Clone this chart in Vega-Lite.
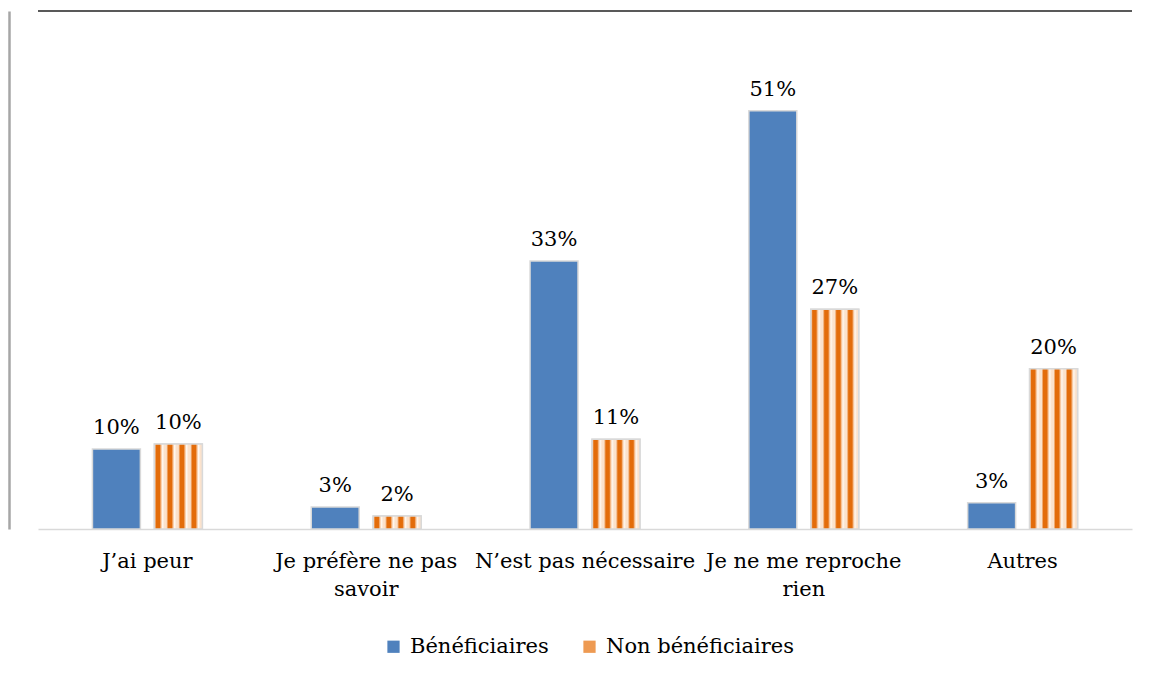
{
  "$schema": "https://vega.github.io/schema/vega-lite/v6.json",
  "autosize": {"type": "none"},
  "width": 1094,
  "height": 518,
  "padding": {"left": 38, "top": 11, "right": 17, "bottom": 146},
  "background": "white",
  "config": {
    "view": {"stroke": null},
    "font": "DejaVu Serif",
    "text": {"font": "DejaVu Serif"},
    "axis": {"labelFont": "DejaVu Serif"},
    "legend": {"labelFont": "DejaVu Serif"}
  },
  "data": {
    "values": [
      {"cat": "J’ai peur", "serie": "Bénéficiaires", "v": 0.098},
      {"cat": "J’ai peur", "serie": "Non bénéficiaires", "v": 0.104},
      {"cat": "Je préfère ne pas|savoir", "serie": "Bénéficiaires", "v": 0.027},
      {"cat": "Je préfère ne pas|savoir", "serie": "Non bénéficiaires", "v": 0.016},
      {"cat": "N’est pas nécessaire", "serie": "Bénéficiaires", "v": 0.328},
      {"cat": "N’est pas nécessaire", "serie": "Non bénéficiaires", "v": 0.110},
      {"cat": "Je ne me reproche|rien", "serie": "Bénéficiaires", "v": 0.512},
      {"cat": "Je ne me reproche|rien", "serie": "Non bénéficiaires", "v": 0.269},
      {"cat": "Autres", "serie": "Bénéficiaires", "v": 0.032},
      {"cat": "Autres", "serie": "Non bénéficiaires", "v": 0.196}
    ]
  },
  "encoding": {
    "x": {
      "field": "cat",
      "type": "nominal",
      "sort": null,
      "scale": {"paddingInner": 0.4977, "paddingOuter": 0.2488},
      "axis": {
        "title": null,
        "labelExpr": "split(datum.label, '|')",
        "labelAngle": 0,
        "labelFontSize": 21,
        "labelLineHeight": 28,
        "labelLimit": 0,
        "labelColor": "#000000",
        "labelPadding": 21,
        "ticks": false,
        "domainColor": "#D9D9D9",
        "domainWidth": 1.5
      }
    },
    "xOffset": {
      "field": "serie",
      "type": "nominal",
      "sort": ["Bénéficiaires", "Non bénéficiaires"],
      "scale": {"paddingInner": 0.2258, "paddingOuter": 0}
    },
    "y": {
      "field": "v",
      "type": "quantitative",
      "scale": {"domain": [0, 0.634], "nice": false},
      "axis": {
        "title": null,
        "labels": false,
        "ticks": false,
        "grid": false,
        "offset": 29,
        "domainColor": "#A6A6A6",
        "domainWidth": 2.5
      }
    }
  },
  "layer": [
    {
      "mark": {"type": "bar", "stroke": "#D9D9D9", "strokeWidth": 1.5},
      "encoding": {
        "color": {
          "field": "serie",
          "type": "nominal",
          "scale": {"domain": ["Bénéficiaires", "Non bénéficiaires"], "range": ["#4F81BD", "#EE9A52"]},
          "legend": {
            "title": null,
            "orient": "none",
            "legendX": 345,
            "legendY": 625,
            "direction": "horizontal",
            "symbolType": "square",
            "symbolSize": 150,
            "symbolStrokeWidth": 0,
            "labelFontSize": 21,
            "labelLimit": 0,
            "labelColor": "#000000",
            "labelOffset": 6,
            "columnPadding": 30
          }
        }
      }
    },
    {
      "transform": [{"filter": "datum.serie === 'Non bénéficiaires'"}],
      "mark": {
        "type": "bar",
        "stroke": "#D9D9D9",
        "strokeWidth": 1.5,
        "fill": {
          "gradient": "linear",
          "x1": 0, "y1": 0, "x2": 1, "y2": 0,
          "stops": [
            {"offset": 0.0, "color": "#FBE2CC"},
            {"offset": 0.04, "color": "#E36C0A"},
            {"offset": 0.11, "color": "#E36C0A"},
            {"offset": 0.14, "color": "#F7C296"},
            {"offset": 0.17, "color": "#FFF8F0"},
            {"offset": 0.21, "color": "#FBE2CC"},
            {"offset": 0.25, "color": "#FBE2CC"},
            {"offset": 0.29, "color": "#E36C0A"},
            {"offset": 0.36, "color": "#E36C0A"},
            {"offset": 0.39, "color": "#F7C296"},
            {"offset": 0.42, "color": "#FFF8F0"},
            {"offset": 0.46, "color": "#FBE2CC"},
            {"offset": 0.50, "color": "#FBE2CC"},
            {"offset": 0.54, "color": "#E36C0A"},
            {"offset": 0.61, "color": "#E36C0A"},
            {"offset": 0.64, "color": "#F7C296"},
            {"offset": 0.67, "color": "#FFF8F0"},
            {"offset": 0.71, "color": "#FBE2CC"},
            {"offset": 0.75, "color": "#FBE2CC"},
            {"offset": 0.79, "color": "#E36C0A"},
            {"offset": 0.86, "color": "#E36C0A"},
            {"offset": 0.89, "color": "#F7C296"},
            {"offset": 0.92, "color": "#FFF8F0"},
            {"offset": 0.96, "color": "#FBE2CC"},
            {"offset": 1.0, "color": "#FBE2CC"}
          ]
        }
      }
    },
    {
      "mark": {"type": "text", "baseline": "alphabetic", "dy": -15, "fontSize": 21, "color": "#000000"},
      "encoding": {
        "text": {"field": "v", "type": "quantitative", "format": ".0%"}
      }
    },
    {
      "mark": {"type": "rule", "color": "#595959", "strokeWidth": 2},
      "encoding": {
        "x": null,
        "xOffset": null,
        "y": {"datum": 0.634, "type": "quantitative"}
      }
    }
  ]
}
